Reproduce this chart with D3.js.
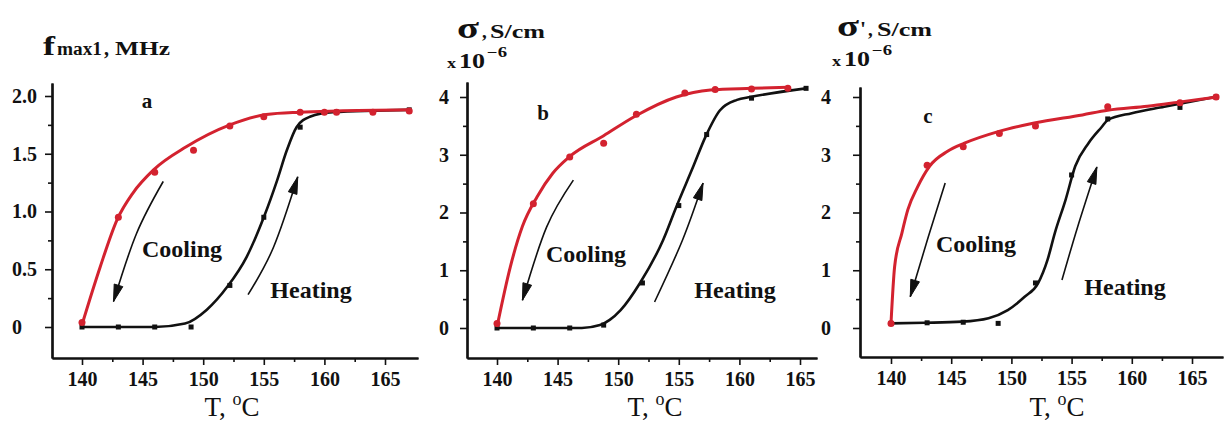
<!DOCTYPE html>
<html><head><meta charset="utf-8">
<script src="https://cdn.jsdelivr.net/npm/d3@7"></script>
<style>
body{margin:0;background:#fff}
svg{display:block}
text{font-family:"Liberation Serif","Times New Roman",serif !important;fill:#111}
</style>
</head><body><svg id="chart" width="1225" height="422"></svg>
<script>
// ---------- tick labels ----------
const xTicks = [140,145,150,155,160,165];
const xMinor = [142.5,147.5,152.5,157.5,162.5];
const yTicksA = [0,0.5,1,1.5,2];
const yLabelsA = ["0","0.5","1.0","1.5","2.0"];
const yMinorA = [0.25,0.75,1.25,1.75];
const yTicksBC = [0,1,2,3,4];
const yLabelsBC = ["0","1","2","3","4"];
const yMinorBC = [0.5,1.5,2.5,3.5];

// ---------- panel a : f_max1 (MHz) ----------
const aCoolT   = [140,143,146,149.2,152.2,155,158,160,161,164,167];
const aCoolV   = [0.04,0.95,1.34,1.53,1.74,1.82,1.86,1.86,1.86,1.86,1.87];
const aCoolFitT= [140,141.5,142.9,144.2,145.9,148.6,152.2,155.2,158,161,167];
const aCoolFitV= [0.02,0.52,0.93,1.16,1.36,1.56,1.75,1.84,1.86,1.87,1.88];
const aHeatT   = [140,143,146,149,152.2,155,158,161,167];
const aHeatV   = [0,0,0,0,0.36,0.95,1.73,1.86,1.88];
const aHeatFitT= [140,146,148.5,150.3,152,153.6,155,156.1,156.9,157.7,158.8,160.7,167];
const aHeatFitV= [0,0,0.03,0.15,0.35,0.61,0.95,1.27,1.53,1.73,1.82,1.86,1.88];
const aArrowCoolT = [146.7,144.5,142.6];
const aArrowCoolV = [1.26,0.81,0.22];
const aArrowHeatT = [153.7,155.8,157.8];
const aArrowHeatV = [0.28,0.69,1.3];

// ---------- panel b : sigma (x1e-6 S/cm) ----------
const bCoolT   = [140,143,146,148.8,151.5,155.5,158,161,164];
const bCoolV   = [0.08,2.15,2.96,3.2,3.7,4.07,4.13,4.14,4.15];
const bCoolFitT= [140,141.1,142.1,143.3,144.6,146,148.8,151.5,154.8,157.6,161,164];
const bCoolFitV= [0.02,1.06,1.76,2.27,2.68,2.97,3.33,3.68,4.0,4.12,4.15,4.17];
const bHeatT   = [140,143,146,148.8,152,155,157.3,161,165.5];
const bHeatV   = [0,0,0,0.05,0.78,2.12,3.35,3.98,4.15];
const bHeatFitT= [140,147,148.5,149.3,150.2,151.8,153.7,154.8,156.2,157.2,158.4,159.8,160.9,165.5];
const bHeatFitV= [0,0,0.05,0.14,0.31,0.78,1.52,2.1,2.8,3.31,3.77,3.95,4.0,4.15];
const bArrowCoolT = [146.3,144.1,142.1];
const bArrowCoolV = [2.56,1.75,0.48];
const bArrowHeatT = [153.0,155.3,157.0];
const bArrowHeatV = [0.45,1.52,2.51];

// ---------- panel c : sigma' (x1e-6 S/cm) ----------
const cCoolT   = [140,143,146,149,152,158,164,167];
const cCoolV   = [0.08,2.82,3.14,3.37,3.5,3.83,3.9,4.0];
const cCoolFitT= [140,140.3,140.9,141.4,142.2,143.2,144.7,146.1,148.9,151.9,155.9,158,161.3,164.2,167.1];
const cCoolFitV= [0.08,1.06,1.64,2.05,2.44,2.8,3.06,3.2,3.4,3.55,3.69,3.77,3.84,3.92,4.0];
const cHeatT   = [140,143,146,148.9,152,155,158,164,167];
const cHeatV   = [0.08,0.09,0.1,0.08,0.78,2.65,3.62,3.82,4.0];
const cHeatFitT= [140,142.8,145.9,148.1,149.7,151.1,152.2,153.0,153.6,154.5,155.3,156.4,157.5,158,160,162.7,166.9];
const cHeatFitV= [0.08,0.09,0.11,0.17,0.31,0.54,0.77,1.18,1.64,2.22,2.8,3.2,3.48,3.6,3.72,3.83,4.0];
const cArrowCoolT = [144.5,143.1,141.6];
const cArrowCoolV = [2.51,1.58,0.54];
const cArrowHeatT = [154.2,155.5,157.1];
const cArrowHeatV = [0.83,1.75,2.79];

const cooling = "Cooling", heating = "Heating";
const panelLetters = ["a","b","c"];

// ---------- layout ----------
const RED = "#d3222f", BLACK = "#111";
const panels = [
  { letter: panelLetters[0], xPx:[82,385], yVals:[0,2], yPx:[327,96], box:{l:52,r:418,t:83,b:358}, yLabelX:12,
    yTicks:yTicksA, yLabels:yLabelsA, yMinor:yMinorA,
    cool:[aCoolT,aCoolV], coolFit:[aCoolFitT,aCoolFitV], heat:[aHeatT,aHeatV], heatFit:[aHeatFitT,aHeatFitV],
    arrowCool:[aArrowCoolT,aArrowCoolV], arrowHeat:[aArrowHeatT,aArrowHeatV],
    letterPos:[147,108], coolPos:[182,257], heatPos:[311,298], xTitleX:232 },
  { letter: panelLetters[1], xPx:[497,800], yVals:[0,4], yPx:[328,97], box:{l:467,r:817,t:82,b:358}, yLabelX:439,
    yTicks:yTicksBC, yLabels:yLabelsBC, yMinor:yMinorBC,
    cool:[bCoolT,bCoolV], coolFit:[bCoolFitT,bCoolFitV], heat:[bHeatT,bHeatV], heatFit:[bHeatFitT,bHeatFitV],
    arrowCool:[bArrowCoolT,bArrowCoolV], arrowHeat:[bArrowHeatT,bArrowHeatV],
    letterPos:[543,120], coolPos:[586,262], heatPos:[735,298], xTitleX:655 },
  { letter: panelLetters[2], xPx:[891,1192], yVals:[0,4], yPx:[328,97], box:{l:860,r:1223,t:87,b:357}, yLabelX:821,
    yTicks:yTicksBC, yLabels:yLabelsBC, yMinor:yMinorBC,
    cool:[cCoolT,cCoolV], coolFit:[cCoolFitT,cCoolFitV], heat:[cHeatT,cHeatV], heatFit:[cHeatFitT,cHeatFitV],
    arrowCool:[cArrowCoolT,cArrowCoolV], arrowHeat:[cArrowHeatT,cArrowHeatV],
    letterPos:[928,123], coolPos:[976,252], heatPos:[1125,295], xTitleX:1057 }
];

const svg = d3.select("#chart");
const zip = (a,b)=>a.map((d,i)=>[d,b[i]]);

panels.forEach(p=>{
  const x0 = d3.scaleLinear().domain([140,165]).range(p.xPx);
  const y0 = d3.scaleLinear().domain(p.yVals).range(p.yPx);
  const x = d3.scaleLinear().domain([x0.invert(p.box.l), x0.invert(p.box.r)]).range([p.box.l,p.box.r]);
  const y = d3.scaleLinear().domain([y0.invert(p.box.b), y0.invert(p.box.t)]).range([p.box.b,p.box.t]);
  const g = svg.append("g");

  // axes
  const xa = g.append("g").attr("transform",`translate(0,${p.box.b})`)
    .call(d3.axisBottom(x).tickValues(xTicks).tickSize(7).tickSizeOuter(0).tickFormat(d3.format("d")).tickPadding(6));
  const xm = g.append("g").attr("transform",`translate(0,${p.box.b})`)
    .call(d3.axisBottom(x).tickValues(xMinor).tickSize(4).tickSizeOuter(0).tickFormat(""));
  const ya = g.append("g").attr("transform",`translate(${p.box.l},0)`)
    .call(d3.axisLeft(y).tickValues(p.yTicks).tickSize(7).tickSizeOuter(0).tickFormat((d,i)=>p.yLabels[i]).tickPadding(6));
  const ym = g.append("g").attr("transform",`translate(${p.box.l},0)`)
    .call(d3.axisLeft(y).tickValues(p.yMinor).tickSize(4).tickSizeOuter(0).tickFormat(""));
  [xa,xm,ya,ym].forEach(s=>{
    s.select(".domain").attr("stroke",BLACK).attr("stroke-width",2.2);
    s.selectAll(".tick line").attr("stroke",BLACK).attr("stroke-width",1.6);
    s.selectAll(".tick text").attr("font-size",20).attr("font-weight","bold").attr("fill","#222");
  });
  xa.selectAll(".tick text").attr("dy","0.75em");
  ya.selectAll(".tick text").attr("text-anchor","start").attr("x",p.yLabelX-p.box.l);

  const line = d3.line().x(d=>x(d[0])).y(d=>y(d[1])).curve(d3.curveMonotoneX);

  // heating (black)
  g.append("path").datum(zip(p.heatFit[0],p.heatFit[1])).attr("d",line)
    .attr("fill","none").attr("stroke",BLACK).attr("stroke-width",2.6);
  g.selectAll(".hm").data(zip(p.heat[0],p.heat[1])).enter().append("rect")
    .attr("x",d=>x(d[0])-2.5).attr("y",d=>y(d[1])-2.5).attr("width",5).attr("height",5).attr("fill",BLACK);
  // cooling (red)
  g.append("path").datum(zip(p.coolFit[0],p.coolFit[1])).attr("d",line)
    .attr("fill","none").attr("stroke",RED).attr("stroke-width",3);
  g.selectAll(".cm").data(zip(p.cool[0],p.cool[1])).enter().append("circle")
    .attr("cx",d=>x(d[0])).attr("cy",d=>y(d[1])).attr("r",3.5).attr("fill",RED);

  // arrows
  const aline = d3.line().x(d=>x(d[0])).y(d=>y(d[1])).curve(d3.curveNatural);
  [p.arrowCool,p.arrowHeat].forEach(a=>{
    const path = g.append("path").datum(zip(a[0],a[1])).attr("d",aline)
      .attr("fill","none").attr("stroke",BLACK).attr("stroke-width",1.6);
    const node = path.node(), L = node.getTotalLength();
    const tip = node.getPointAtLength(L), back = node.getPointAtLength(L-8);
    const ang = Math.atan2(tip.y-back.y, tip.x-back.x);
    const len = 17, hw = 4.5;
    const bx = tip.x - len*Math.cos(ang), by = tip.y - len*Math.sin(ang);
    const px = -Math.sin(ang)*hw, py = Math.cos(ang)*hw;
    g.append("path").attr("d",`M${tip.x},${tip.y}L${bx+px},${by+py}L${bx-px},${by-py}Z`)
      .attr("fill",BLACK).attr("stroke",BLACK).attr("stroke-width",1);
  });

  // annotations
  g.append("text").attr("x",p.letterPos[0]).attr("y",p.letterPos[1]).attr("text-anchor","middle")
    .attr("font-size",21).attr("font-weight","bold").text(p.letter);
  g.append("text").attr("x",p.coolPos[0]).attr("y",p.coolPos[1]).attr("text-anchor","middle")
    .attr("font-size",24).attr("font-weight","bold").text(cooling);
  g.append("text").attr("x",p.heatPos[0]).attr("y",p.heatPos[1]).attr("text-anchor","middle")
    .attr("font-size",24).attr("font-weight","bold").text(heating);

  // x title "T, oC"
  const xt = g.append("text").attr("x",p.xTitleX).attr("y",416).attr("text-anchor","middle").attr("font-size",27);
  xt.append("tspan").text("T, ");
  xt.append("tspan").attr("font-size",18).attr("dy",-11).text("o");
  xt.append("tspan").attr("dy",11).text("C");
});

// y titles
function txt(x,y,s,size,len,weight){
  const t = svg.append("text").attr("x",x).attr("y",y).attr("font-size",size)
    .attr("font-weight",weight||"bold").text(s);
  if(len) t.attr("textLength",len).attr("lengthAdjust","spacingAndGlyphs");
  return t;
}
// panel a
txt(43,55,"f",27,12);
txt(57,55,"max1",18,45);
txt(104,55,",",20);
txt(115,55,"MHz",19,55);
// panel b
txt(457,38,"σ",30,22);
txt(482,38,",",19);
txt(490,38,"S/cm",19,55);
txt(447,68,"x",15,9);
txt(459,68,"10",20,26);
txt(487,57,"−6",14,20);
// panel c
txt(837,36,"σ",30,22);
txt(860,36,"'",22,6);
txt(868,36,",",19);
txt(877,36,"S/cm",19,55);
txt(832,66,"x",15,9);
txt(844,66,"10",20,26);
txt(872,55,"−6",14,20);
</script>
</body></html>
